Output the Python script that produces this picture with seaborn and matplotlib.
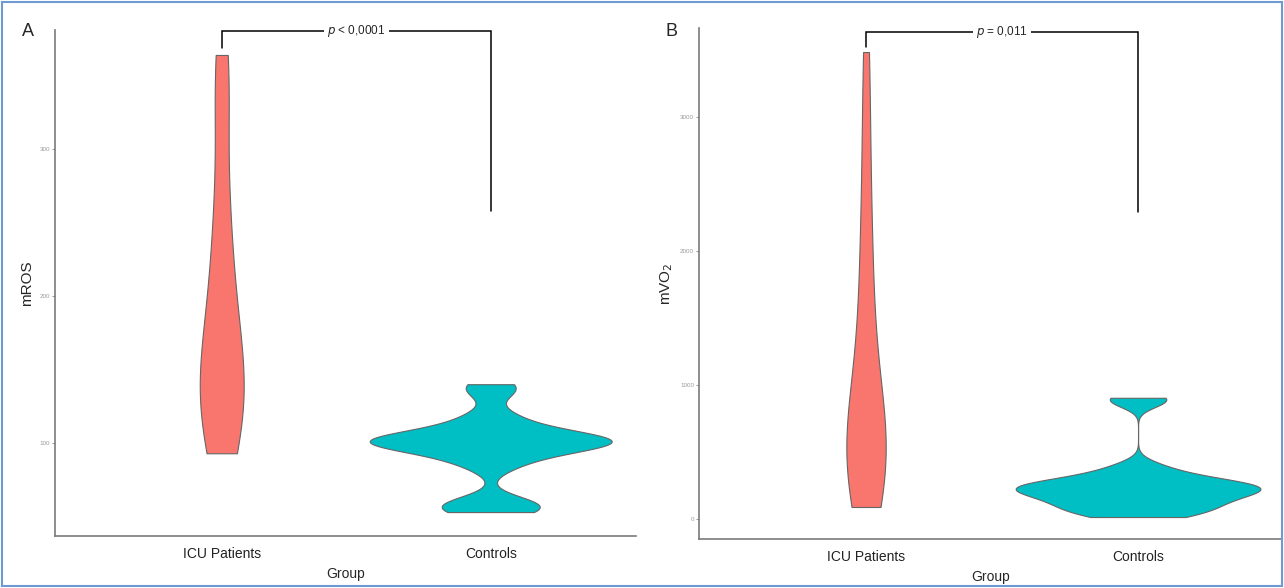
import numpy as np
import pandas as pd
import matplotlib
matplotlib.use('Agg')
import matplotlib.pyplot as plt
import seaborn as sns
from matplotlib.patches import Rectangle

# values
groups = ['ICU Patients', 'Controls']
ros_icu = [93, 102, 110, 118, 125, 131, 137, 144, 152, 162, 175, 190, 208, 228, 250, 275, 330, 350, 364]
ros_ctrl = [53, 55, 58, 60, 84, 90, 94, 97, 99, 100, 101, 102, 102, 103, 105, 108, 113, 119, 135, 140]
vo2_icu = [90, 160, 250, 330, 400, 470, 540, 610, 690, 800, 950, 1150, 1400, 1700, 2000, 2400, 2900, 3485]
vo2_ctrl = [15, 40, 65, 90, 115, 140, 160, 180, 200, 215, 228, 240, 250, 262, 278, 300, 340, 395, 880, 905]
ros_ticks = [100, 200, 300]
vo2_ticks = [0, 1000, 2000, 3000]
p_labels = ['$p$ < 0,0001', '$p$ = 0,011']
# bracket: top, left tip, right tip (data units)
ros_bracket = [380, 369, 258]
vo2_bracket = [3634, 3522, 2291]

colors = {'ICU Patients': '#F8766D', 'Controls': '#00BFC4'}


def long_df(icu, ctrl):
    return pd.DataFrame({'Group': ['ICU Patients'] * len(icu) + ['Controls'] * len(ctrl),
                         'value': icu + ctrl})


# bandwidth like R's bw.nrd0
def nrd0(kde):
    x = kde.dataset[0]
    sd = x.std(ddof=1)
    q75, q25 = np.percentile(x, [75, 25])
    bw = 0.9 * min(sd, (q75 - q25) / 1.34) * len(x) ** -0.2
    return bw / sd


sns.set_style('white')
plt.rcParams['font.family'] = ['Liberation Sans', 'DejaVu Sans']

fig = plt.figure(figsize=(12.84, 5.88), dpi=100)
ax1 = fig.add_axes([0.0428, 0.0884, 0.4525, 0.8606])
ax2 = fig.add_axes([0.5444, 0.0833, 0.4540, 0.8690])

panels = [
    (ax1, long_df(ros_icu, ros_ctrl), 'mROS', ros_ticks, (36.7, 381), (-0.62, 1.54), ros_bracket, p_labels[0]),
    (ax2, long_df(vo2_icu, vo2_ctrl), 'mVO$_2$', vo2_ticks, (-149, 3664), (-0.614, 1.529), vo2_bracket, p_labels[1]),
]

for ax, df, ylab, ticks, ylim, xlim, br, plab in panels:
    sns.violinplot(data=df, x='Group', y='value', hue='Group', order=groups, hue_order=groups,
                   palette=colors, legend=False, inner=None, cut=0, density_norm='area',
                   common_norm=True, width=0.9, bw_method=nrd0, linecolor='#666666',
                   linewidth=0.8, saturation=1, ax=ax)
    ax.set_xlim(*xlim)
    ax.set_ylim(*ylim)
    ax.set_yticks(ticks)
    ax.tick_params(axis='y', labelsize=4.5, labelcolor='#999999', length=2, width=0.6,
                   color='#888888', pad=1.5, left=True)
    ax.tick_params(axis='x', labelsize=10, labelcolor='#222222', length=0, pad=8)
    ax.set_ylabel(ylab, fontsize=11, labelpad=4)
    ax.set_xlabel('Group', fontsize=10, labelpad=4)
    sns.despine(ax=ax)
    for s in ['left', 'bottom']:
        ax.spines[s].set_color('#7a7a7a')
        ax.spines[s].set_linewidth(1.2)

    # significance bracket
    ax.plot([0, 0, 1, 1], [br[1], br[0], br[0], br[2]], color='black', lw=1.1,
            clip_on=False, solid_joinstyle='miter')
    ax.text(0.5, br[0], plab, ha='center', va='center', fontsize=8.5,
            bbox=dict(facecolor='white', edgecolor='none', pad=2.5), clip_on=False)

fig.text(28 / 1284, 1 - 31 / 588, 'A', fontsize=13, ha='center', va='center')
fig.text(672 / 1284, 1 - 31 / 588, 'B', fontsize=13, ha='center', va='center')

# thin blue frame round the figure
fig.patches.append(Rectangle((0.0015, 0.003), 0.997, 0.994, transform=fig.transFigure,
                             fill=False, edgecolor='#6d9bd1', linewidth=1.5))

fig.savefig('out.png', dpi=100)
